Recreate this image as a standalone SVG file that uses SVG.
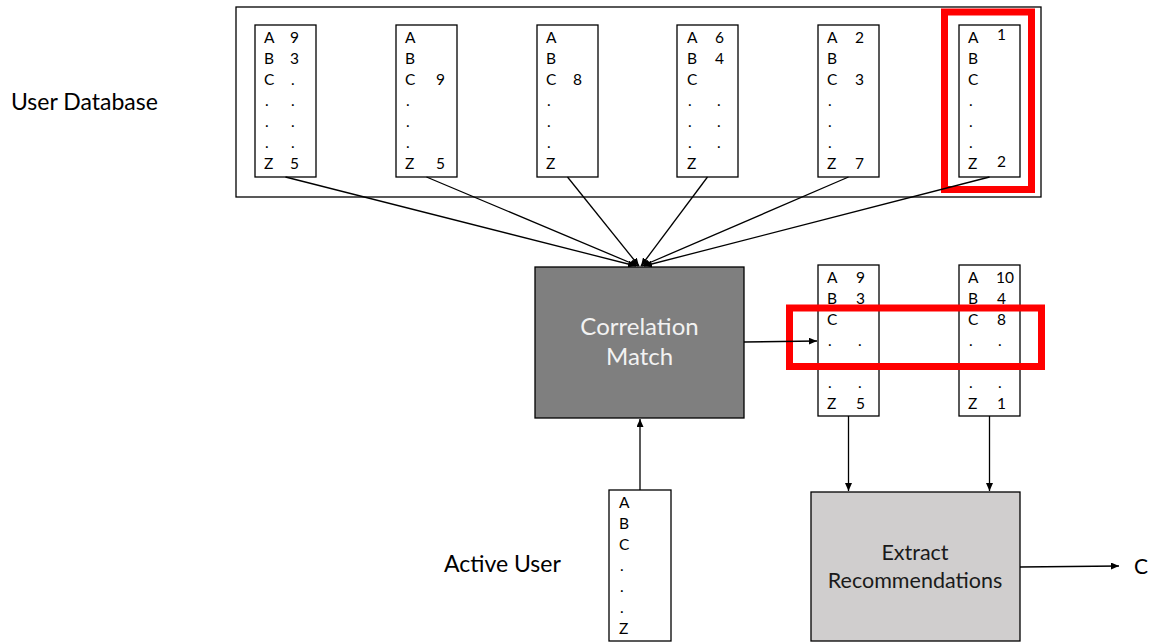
<svg xmlns="http://www.w3.org/2000/svg" width="1150" height="642" viewBox="0 0 1150 642">
  <defs>
    <marker id="arrow" markerWidth="9" markerHeight="7" refX="8" refY="3.5" orient="auto" markerUnits="userSpaceOnUse">
      <path d="M0,0 L8,3.5 L0,7 z" fill="#000"/>
    </marker>
    <style>
      .card { fill: #fff; stroke: #000; stroke-width: 1.3; }
      .cell { font-family: Lato, "Liberation Sans", sans-serif; font-size: 15.5px; fill: #000; }
      .label { font-family: Lato, "Liberation Sans", sans-serif; font-size: 23px; fill: #000; }
      .conn { stroke: #000; stroke-width: 1.3; fill: none; marker-end: url(#arrow); }
      .hl { fill: none; stroke: #ff0000; stroke-width: 7; }
    </style>
  </defs>

  <rect width="1150" height="642" fill="#fff"/>

  <!-- user database container -->
  <g id="user-database">
    <rect x="236" y="7" width="805" height="190" fill="#fff" stroke="#000" stroke-width="1.3"/>
    <text class="label" x="11" y="110">User Database</text>
  </g>

  <!-- user profile cards -->
  <g id="user-1">
    <rect class="card" x="255" y="25" width="61" height="152"/>
    <text class="cell" x="264" y="43">A</text><text class="cell" x="264" y="64">B</text><text class="cell" x="264" y="85">C</text>
    <text class="cell" x="265" y="106">.</text><text class="cell" x="265" y="127">.</text><text class="cell" x="265" y="148">.</text>
    <text class="cell" x="264" y="169">Z</text>
    <text class="cell" x="290" y="43">9</text><text class="cell" x="290" y="64">3</text><text class="cell" x="291" y="85">.</text>
    <text class="cell" x="291" y="106">.</text><text class="cell" x="291" y="127">.</text><text class="cell" x="291" y="148">.</text>
    <text class="cell" x="290" y="169">5</text>
  </g>
  <g id="user-2">
    <rect class="card" x="396" y="25" width="61" height="152"/>
    <text class="cell" x="405" y="43">A</text><text class="cell" x="405" y="64">B</text><text class="cell" x="405" y="85">C</text>
    <text class="cell" x="406" y="106">.</text><text class="cell" x="406" y="127">.</text><text class="cell" x="406" y="148">.</text>
    <text class="cell" x="405" y="169">Z</text>
    <text class="cell" x="436" y="85">9</text><text class="cell" x="436" y="169">5</text>
  </g>
  <g id="user-3">
    <rect class="card" x="537" y="25" width="61" height="152"/>
    <text class="cell" x="546" y="43">A</text><text class="cell" x="546" y="64">B</text><text class="cell" x="546" y="85">C</text>
    <text class="cell" x="547" y="106">.</text><text class="cell" x="547" y="127">.</text><text class="cell" x="547" y="148">.</text>
    <text class="cell" x="546" y="169">Z</text>
    <text class="cell" x="573" y="85">8</text>
  </g>
  <g id="user-4">
    <rect class="card" x="677" y="25" width="61" height="152"/>
    <text class="cell" x="687" y="43">A</text><text class="cell" x="687" y="64">B</text><text class="cell" x="687" y="85">C</text>
    <text class="cell" x="688" y="106">.</text><text class="cell" x="688" y="127">.</text><text class="cell" x="688" y="148">.</text>
    <text class="cell" x="687" y="169">Z</text>
    <text class="cell" x="715" y="43">6</text><text class="cell" x="715" y="64">4</text>
    <text class="cell" x="717" y="106">.</text><text class="cell" x="717" y="127">.</text><text class="cell" x="717" y="148">.</text>
  </g>
  <g id="user-5">
    <rect class="card" x="818" y="25" width="61" height="152"/>
    <text class="cell" x="827" y="43">A</text><text class="cell" x="827" y="64">B</text><text class="cell" x="827" y="85">C</text>
    <text class="cell" x="828" y="106">.</text><text class="cell" x="828" y="127">.</text><text class="cell" x="828" y="148">.</text>
    <text class="cell" x="827" y="169">Z</text>
    <text class="cell" x="855" y="43">2</text><text class="cell" x="855" y="85">3</text><text class="cell" x="855" y="169">7</text>
  </g>
  <g id="user-6">
    <rect class="card" x="959" y="25" width="61" height="152"/>
    <text class="cell" x="968" y="43">A</text><text class="cell" x="968" y="64">B</text><text class="cell" x="968" y="85">C</text>
    <text class="cell" x="969" y="106">.</text><text class="cell" x="969" y="127">.</text><text class="cell" x="969" y="148">.</text>
    <text class="cell" x="968" y="169">Z</text>
    <text class="cell" x="997" y="40">1</text><text class="cell" x="997" y="167">2</text>
    <rect class="hl" x="944.5" y="12" width="87" height="177.5"/>
  </g>

  <!-- correlation match -->
  <g id="correlation-match">
    <rect x="535" y="267" width="209" height="151" fill="#7f7f7f" stroke="#000" stroke-width="1.3"/>
    <text x="639.5" y="335" text-anchor="middle" font-family="Lato, 'Liberation Sans', sans-serif" font-size="24" fill="#f2f2f2">Correlation</text>
    <text x="639.5" y="365" text-anchor="middle" font-family="Lato, 'Liberation Sans', sans-serif" font-size="24" fill="#f2f2f2">Match</text>
  </g>

  <!-- matched neighbour cards -->
  <g id="match-1">
    <rect class="card" x="818" y="265" width="61" height="151"/>
    <text class="cell" x="827" y="283">A</text><text class="cell" x="827" y="304">B</text><text class="cell" x="827" y="325">C</text>
    <text class="cell" x="828" y="346">.</text><text class="cell" x="828" y="388">.</text>
    <text class="cell" x="827" y="409">Z</text>
    <text class="cell" x="856" y="283">9</text><text class="cell" x="856" y="304">3</text>
    <text class="cell" x="858" y="346">.</text><text class="cell" x="858" y="367">.</text><text class="cell" x="858" y="388">.</text>
    <text class="cell" x="856" y="409">5</text>
  </g>
  <g id="match-2">
    <rect class="card" x="959" y="265" width="61" height="151"/>
    <text class="cell" x="968" y="283">A</text><text class="cell" x="968" y="304">B</text><text class="cell" x="968" y="325">C</text>
    <text class="cell" x="969" y="346">.</text><text class="cell" x="969" y="388">.</text>
    <text class="cell" x="968" y="409">Z</text>
    <text class="cell" x="996" y="283">10</text><text class="cell" x="997" y="304">4</text><text class="cell" x="997" y="325">8</text>
    <text class="cell" x="998" y="346">.</text><text class="cell" x="998" y="367">.</text><text class="cell" x="998" y="388">.</text>
    <text class="cell" x="997" y="409">1</text>
  </g>
  <rect id="match-highlight" class="hl" x="789.5" y="308" width="252" height="58.5"/>

  <!-- active user -->
  <g id="active-user">
    <rect class="card" x="609" y="490" width="62" height="151"/>
    <text class="cell" x="619" y="508">A</text><text class="cell" x="619" y="529">B</text><text class="cell" x="619" y="550">C</text>
    <text class="cell" x="620" y="571">.</text><text class="cell" x="620" y="592">.</text><text class="cell" x="620" y="613">.</text>
    <text class="cell" x="619" y="634">Z</text>
    <text class="label" x="444" y="572">Active User</text>
  </g>

  <!-- extract recommendations -->
  <g id="extract-recommendations">
    <rect x="811" y="492" width="209" height="149" fill="#d0cece" stroke="#000" stroke-width="1.3"/>
    <text x="915" y="560" text-anchor="middle" font-family="Lato, 'Liberation Sans', sans-serif" font-size="21.5" fill="#1a1a1a">Extract</text>
    <text x="915" y="588" text-anchor="middle" font-family="Lato, 'Liberation Sans', sans-serif" font-size="21.5" fill="#1a1a1a">Recommendations</text>
  </g>

  <g id="output-c">
    <text class="label" x="1134" y="574" font-size="21" style="font-size:21px">C</text>
  </g>

  <!-- connectors -->
  <g id="connectors">
    <line class="conn" x1="285.5" y1="177" x2="636" y2="266"/>
    <line class="conn" x1="426.5" y1="177" x2="638" y2="266"/>
    <line class="conn" x1="567.5" y1="177" x2="639" y2="266"/>
    <line class="conn" x1="707.5" y1="177" x2="641" y2="266"/>
    <line class="conn" x1="848.5" y1="177" x2="642" y2="266"/>
    <line class="conn" x1="989.5" y1="177" x2="644" y2="266"/>
    <line class="conn" x1="744" y1="342" x2="817" y2="341"/>
    <line class="conn" x1="640" y1="490" x2="640" y2="419"/>
    <line class="conn" x1="848.5" y1="416" x2="848.5" y2="491"/>
    <line class="conn" x1="989.5" y1="416" x2="989.5" y2="491"/>
    <line class="conn" x1="1020" y1="567" x2="1119" y2="566"/>
  </g>
</svg>
